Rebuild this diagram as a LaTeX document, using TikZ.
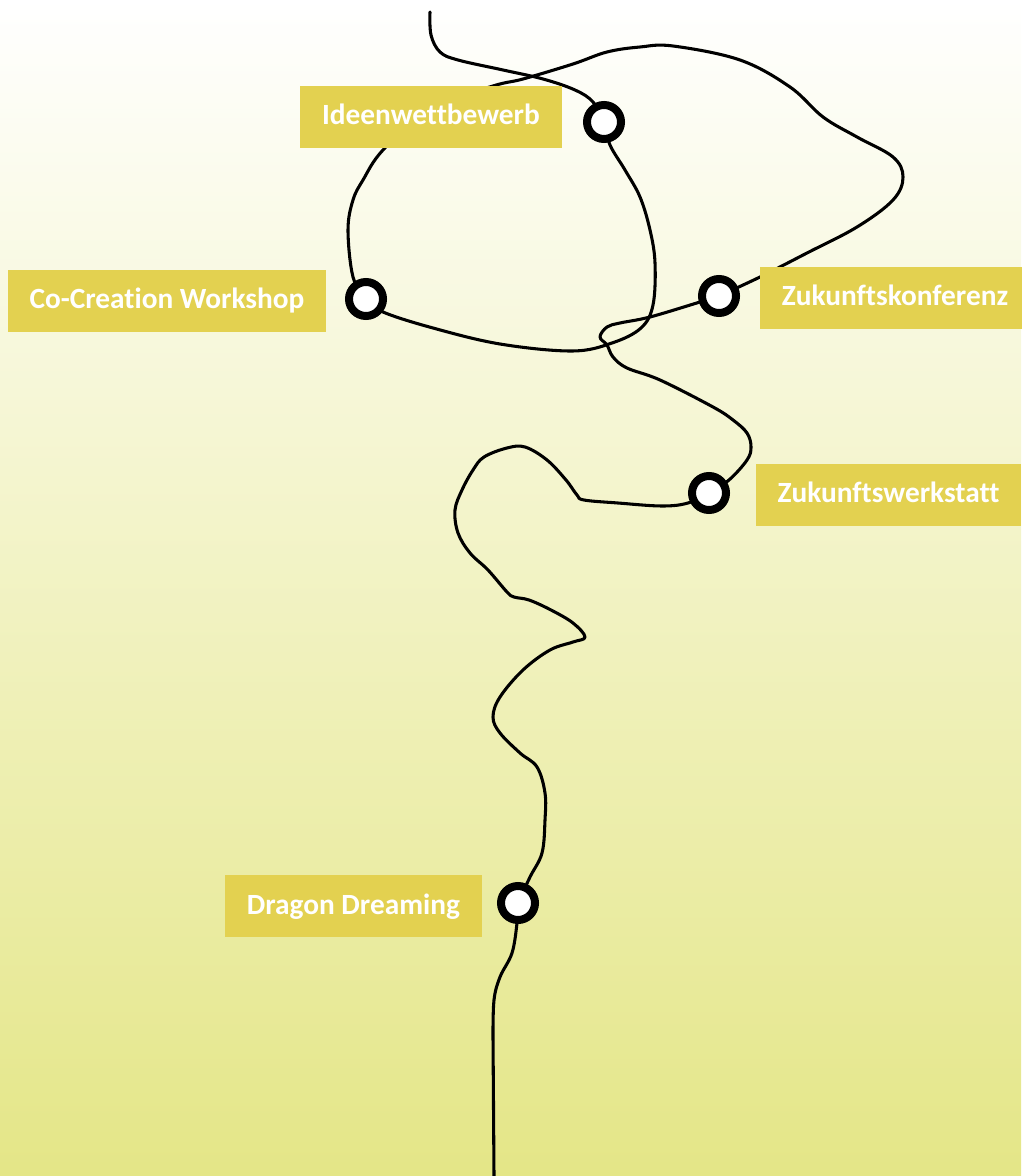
\documentclass[tikz,border=0pt]{standalone}
\usepackage{fontspec}
\setmainfont{Carlito}[Ligatures=CommonOff]
\usepackage{tikz}

\definecolor{labelyellow}{RGB}{227,209,80}
\definecolor{bgbottom}{RGB}{228,230,135}

\pgfdeclarelayer{backdrop}
\pgfdeclarelayer{curve}
\pgfsetlayers{backdrop,curve,main}

\begin{document}
\begin{tikzpicture}[x=0.75pt,y=0.75pt,yscale=-1,xscale=1,
  pathline/.style={line width=2.3pt, line cap=round, line join=round},
  stationdot/.style={circle, draw=black, fill=white, line width=6pt, minimum size=25.5pt, inner sep=0pt},
  stationlabel/.style={fill=labelyellow, text=white, font=\bfseries\fontsize{22}{26}\selectfont,
    inner xsep=16.5pt, inner ysep=0pt, minimum height=46.5pt, text height=16pt, text depth=4pt}]
\useasboundingbox (0,0) rectangle (1021,1176);

%Background
\begin{pgfonlayer}{backdrop}
\shade[top color=white, bottom color=bgbottom] (0,0) rectangle (1021,1176);
\end{pgfonlayer}

%Stations
\node [stationdot] (ideen) at (604,122) {};
\node [stationdot] (cocreation) at (366,299) {};
\node [stationdot] (konferenz) at (719,296) {};
\node [stationdot] (werkstatt) at (709,493) {};
\node [stationdot] (dragon) at (518,903) {};
\coordinate (start) at (430,12);
\coordinate (end) at (494,1176);

% Labels
\node [stationlabel] (ideen-label) at (431,117) {Ideenwettbewerb};
\node [stationlabel] (cocreation-label) at (167,301) {Co-Creation Workshop};
\node [stationlabel] (konferenz-label) at (895,298) {Zukunftskonferenz};
\node [stationlabel] (werkstatt-label) at (888.5,494.5) {Zukunftswerkstatt};
\node [stationlabel] (dragon-label) at (353.5,906) {Dragon Dreaming};

%Curve
\begin{pgfonlayer}{curve}
\draw [pathline] plot [smooth, tension=0.6] coordinates {(start) (431,35) (440,52) (458,60) (503,70) (543,79) (575,90) (593,102) (ideen.center)};
\draw [pathline] plot [smooth, tension=0.6] coordinates {(ideen.center) (610,145) (625,170) (640,197) (650,230) (655,263) (653,305) (641,328) (612,343) (572,351) (500,344) (433,328) (383,312) (cocreation.center)};
\draw [pathline] plot [smooth, tension=0.6] coordinates {(cocreation.center) (353,277) (348,230) (353,200) (363,180) (383,150) (430,108) (493,86) (523,79) (573,64) (607,52) (640,47) (673,46) (740,60) (790,87) (823,117) (857,137) (893,157) (903,177) (893,200) (857,227) (807,253) (760,277) (konferenz.center)};
\draw [pathline] plot [smooth, tension=0.6] coordinates {(konferenz.center) (700,302) (650,317) (620,323) (607,327) (600,337) (607,345) (613,357) (627,368) (660,380) (713,407) (733,420) (747,433) (751,447) (747,460) (729,480) (werkstatt.center)};
\draw [pathline] plot [smooth, tension=0.6] coordinates {(werkstatt.center) (688,503) (662,506) (618,503) (584,500) (577,495) (566,480) (547,460) (525,447) (507,448) (484,457) (473,470) (462,490) (455,510) (458,533) (470,553) (488,570) (507,592) (514,597) (529,600) (551,610) (573,623) (585,637) (573,642) (550,650) (523,670) (500,697) (493,717) (500,733) (520,753) (537,767) (545,793) (545,820) (542,853) (530,877) (dragon.center)};
\draw [pathline] plot [smooth, tension=0.6] coordinates {(dragon.center) (517,923) (512,953) (500,977) (494,1000) (493,1037)} -- (end);
\end{pgfonlayer}

\end{tikzpicture}
\end{document}
